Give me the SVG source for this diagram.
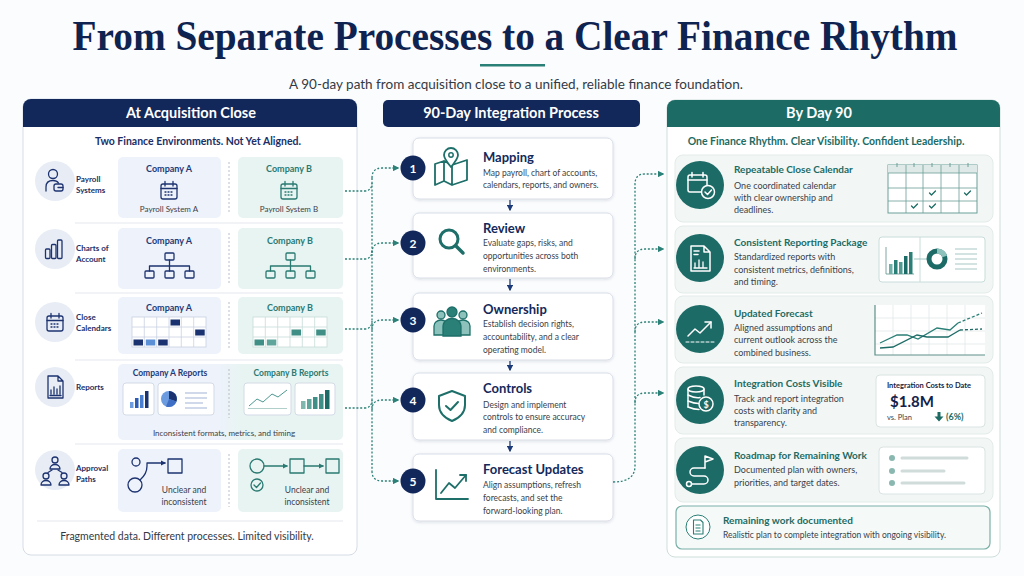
<svg xmlns="http://www.w3.org/2000/svg" width="1024" height="576" viewBox="0 0 1024 576">
<defs>
<style>
text{font-family:Lato,"Open Sans","Liberation Sans",sans-serif}
.title{font-family:"Liberation Serif",serif;font-weight:700;font-size:37px;fill:#0f2350}
.sub{font-size:13.5px;fill:#333a45}
.hdr{font-size:14.5px;font-weight:700;fill:#fff}
.lbl{font-size:8px;font-weight:700;fill:#1b2f66}
.ca{font-size:9px;font-weight:700;fill:#1d3a78}
.cb{font-size:9px;font-weight:700;fill:#2a7a72}
.sm{font-size:8px;fill:#3a3f4a}
.mt{font-size:13px;font-weight:700;fill:#13295b}
.md{font-size:8.5px;fill:#3a3f4a}
.rt{font-size:10px;font-weight:700;fill:#1d6b63}
.rd{font-size:9px;fill:#3a3f4a}
.num{font-size:12px;font-weight:700;fill:#fff}
.conn{fill:none;stroke:#2b8077;stroke-width:1.3;stroke-dasharray:2 1.8}
.ni{fill:none;stroke:#1d3370;stroke-width:1.3;stroke-linecap:round;stroke-linejoin:round}
.ti{fill:none;stroke:#2a7a72;stroke-width:1.3;stroke-linecap:round;stroke-linejoin:round}
.mi{fill:none;stroke:#1e6f69;stroke-width:2.2;stroke-linecap:round;stroke-linejoin:round}
.wi{fill:none;stroke:#fff;stroke-width:1.5;stroke-linecap:round;stroke-linejoin:round}
.card{fill:#fff;stroke:#d8dde8;stroke-width:1}
.rc{fill:#f2f7f6;stroke:#e3ecea;stroke-width:1}
.boxa{fill:#edf2fb}
.boxb{fill:#e8f4f2}
.ic{fill:#e8edf5}
.sep{stroke:#e3e7ee;stroke-width:1}
.div{stroke:#b8bfca;stroke-width:1;stroke-dasharray:2 2}
.tc{fill:#1d6b66}
.mini{fill:#fff;stroke:#d3dbe6;stroke-width:1}
</style>
<filter id="sh" x="-5%" y="-10%" width="110%" height="130%">
<feDropShadow dx="0" dy="1" stdDeviation="1.5" flood-color="#1a2a50" flood-opacity="0.13"/>
</filter>
<linearGradient id="rg" x1="0" y1="0" x2="1" y2="0">
<stop offset="0" stop-color="#edf2fb"/><stop offset="0.45" stop-color="#edf2fb"/><stop offset="0.55" stop-color="#e8f4f2"/><stop offset="1" stop-color="#e8f4f2"/>
</linearGradient>
<marker id="ah" viewBox="0 0 10 10" refX="8" refY="5" markerWidth="5" markerHeight="5" orient="auto"><path d="M0,0 L10,5 L0,10 Z" fill="#2b8077"/></marker>
<marker id="an" viewBox="0 0 10 10" refX="8" refY="5" markerWidth="5" markerHeight="5" orient="auto"><path d="M0,0 L10,5 L0,10 Z" fill="#1d3a78"/></marker>
<marker id="as" viewBox="0 0 10 10" refX="8" refY="5" markerWidth="4" markerHeight="4" orient="auto"><path d="M0,0 L10,5 L0,10 Z" fill="#1d3370"/></marker>
<marker id="at" viewBox="0 0 10 10" refX="8" refY="5" markerWidth="4" markerHeight="4" orient="auto"><path d="M0,0 L10,5 L0,10 Z" fill="#2a7a72"/></marker>
<g id="cal">
<rect x="-8" y="-7" width="16" height="15" rx="2"/>
<path d="M-8,-2.5 H8 M-4,-9.5 V-5 M4,-9.5 V-5"/>
<path d="M-4,1 h1 M-1,1 h1 M2,1 h1 M-4,4 h1 M-1,4 h1 M2,4 h1"/>
</g>
</defs>

<rect width="1024" height="576" fill="#fbfcfd"/>

<g id="header">
<text class="title" transform="translate(515,50) scale(1,1.16)" x="0" y="0" text-anchor="middle" textLength="885" lengthAdjust="spacingAndGlyphs">From Separate Processes to a Clear Finance Rhythm</text>
<rect x="480" y="64" width="65" height="2.5" fill="#2a7f76"/>
<text class="sub" x="516" y="89" text-anchor="middle">A 90-day path from acquisition close to a unified, reliable finance foundation.</text>
</g>

<!-- LEFT PANEL -->
<g id="left-panel">
<rect x="23" y="99" width="334" height="456" rx="8" fill="#fff" stroke="#d6dce6"/>
<path d="M23,127 V107 A8,8 0 0 1 31,99 H349 A8,8 0 0 1 357,107 V127 Z" fill="#12285a"/>
<text class="hdr" x="191" y="118" text-anchor="middle">At Acquisition Close</text>
<text x="198" y="145" text-anchor="middle" style="font-size:10.5px;font-weight:700;fill:#1b2f66">Two Finance Environments. Not Yet Aligned.</text>
<path class="sep" d="M75,223 H343 M75,293 H343 M75,360 H343 M75,444 H343 M37,521 H343"/>
<text x="187" y="540" text-anchor="middle" style="font-size:10.5px;fill:#333a45">Fragmented data. Different processes. Limited visibility.</text>
</g>

<g id="row-payroll">
<circle class="ic" cx="55" cy="181" r="20"/>
<g class="ni">
<circle cx="53" cy="174" r="4.5"/>
<path d="M46,191 V187 C46,182.5 49,180.5 53,180.5 C55.5,180.5 57.5,181.5 58.5,183"/>
<rect x="54" y="184" width="9" height="7" rx="2"/>
<path d="M58,187.5 H63"/>
</g>
<text class="lbl" x="76" y="182">Payroll</text>
<text class="lbl" x="76" y="193">Systems</text>
<rect class="boxa" x="118" y="157" width="103" height="61" rx="5"/>
<rect class="boxb" x="238" y="157" width="105" height="61" rx="5"/>
<line class="div" x1="229" y1="162" x2="229" y2="213"/>
<text class="ca" x="169" y="172" text-anchor="middle">Company A</text>
<text class="cb" x="289" y="172" text-anchor="middle">Company B</text>
<use href="#cal" x="169" y="191" class="ni"/>
<use href="#cal" x="289" y="191" class="ti"/>
<text class="sm" x="169" y="212" text-anchor="middle">Payroll System A</text>
<text class="sm" x="289" y="212" text-anchor="middle">Payroll System B</text>
</g>

<g id="row-charts">
<circle class="ic" cx="55" cy="249" r="20"/>
<g class="ni">
<rect x="45.5" y="249" width="4.5" height="9.5" rx="1"/>
<rect x="51.5" y="244.5" width="4.5" height="14" rx="1"/>
<rect x="57.5" y="240" width="4.5" height="18.5" rx="1"/>
</g>
<text class="lbl" x="76" y="251">Charts of</text>
<text class="lbl" x="76" y="262">Account</text>
<rect class="boxa" x="118" y="228" width="103" height="61" rx="5"/>
<rect class="boxb" x="238" y="228" width="105" height="61" rx="5"/>
<line class="div" x1="229" y1="233" x2="229" y2="284"/>
<text class="ca" x="169" y="244" text-anchor="middle">Company A</text>
<text class="cb" x="290" y="244" text-anchor="middle">Company B</text>
<g class="ni">
<rect x="165" y="253" width="9" height="7" rx="1"/>
<path d="M169.5,260 V266 M149.5,266 H189.5 M149.5,266 V271 M169.5,266 V271 M189.5,266 V271"/>
<rect x="145" y="271" width="9" height="7" rx="1"/><rect x="165" y="271" width="9" height="7" rx="1"/><rect x="185" y="271" width="9" height="7" rx="1"/>
</g>
<g class="ti">
<rect x="286" y="253" width="9" height="7" rx="1"/>
<path d="M290.5,260 V266 M270.5,266 H310.5 M270.5,266 V271 M290.5,266 V271 M310.5,266 V271"/>
<rect x="266" y="271" width="9" height="7" rx="1"/><rect x="286" y="271" width="9" height="7" rx="1"/><rect x="306" y="271" width="9" height="7" rx="1"/>
</g>
</g>

<g id="row-calendars">
<circle class="ic" cx="55" cy="322" r="20"/>
<use href="#cal" x="55" y="323" class="ni"/>
<text class="lbl" x="76" y="320">Close</text>
<text class="lbl" x="76" y="331">Calendars</text>
<rect class="boxa" x="118" y="297" width="103" height="57" rx="5"/>
<rect class="boxb" x="238" y="297" width="105" height="57" rx="5"/>
<line class="div" x1="229" y1="302" x2="229" y2="349"/>
<text class="ca" x="169" y="311" text-anchor="middle">Company A</text>
<text class="cb" x="290" y="311" text-anchor="middle">Company B</text>
<g fill="none" stroke="#c9d2e2" stroke-width="0.8">
<rect x="132" y="317" width="74" height="30" fill="#fff"/>
<path d="M144.3,317 V347 M156.7,317 V347 M169,317 V347 M181.3,317 V347 M193.7,317 V347 M132,327 H206 M132,337 H206"/>
</g>
<g fill="#1a3270">
<rect x="170.5" y="319.5" width="9.5" height="6"/>
<rect x="195.2" y="329.5" width="9.5" height="6"/>
<rect x="133.5" y="339.5" width="9.5" height="6"/>
<rect x="145.8" y="339.5" width="9.5" height="6" fill="#5b8fd6"/>
<rect x="158.2" y="339.5" width="9.5" height="6"/>
</g>
<g fill="none" stroke="#c6dcd8" stroke-width="0.8">
<rect x="253" y="317" width="74" height="30" fill="#fff"/>
<path d="M265.3,317 V347 M277.7,317 V347 M290,317 V347 M302.3,317 V347 M314.7,317 V347 M253,327 H327 M253,337 H327"/>
</g>
<g fill="#3f8f86">
<rect x="291.5" y="329.5" width="9.5" height="6"/>
<rect x="316.2" y="329.5" width="9.5" height="6"/>
<rect x="254.5" y="339.5" width="9.5" height="6"/>
<rect x="266.8" y="339.5" width="9.5" height="6" fill="#5fa59c"/>
</g>
</g>

<g id="row-reports">
<circle class="ic" cx="55" cy="387" r="20"/>
<g class="ni">
<path d="M48,376 H58 L63,381 V398 H48 Z M58,376 V381 H63"/>
<path d="M51,394 V390 M54,394 V387 M57,394 V389 M60,394 V386 M50,395.5 H61"/>
</g>
<text class="lbl" x="76" y="390">Reports</text>
<rect x="118" y="364" width="225" height="76" rx="5" fill="url(#rg)"/>
<line class="div" x1="229" y1="369" x2="229" y2="418"/>
<text class="ca" x="170" y="376" text-anchor="middle" style="font-size:8.5px">Company A Reports</text>
<text class="cb" x="291" y="376" text-anchor="middle" style="font-size:8.5px">Company B Reports</text>
<rect class="mini" x="123" y="383" width="31" height="32" rx="3"/>
<rect class="mini" x="158" y="383" width="56" height="32" rx="3"/>
<rect class="mini" x="244" y="383" width="47" height="32" rx="3" stroke="#cfe0dd"/>
<rect class="mini" x="295" y="383" width="40" height="32" rx="3" stroke="#cfe0dd"/>
<g fill="#2c5bb5">
<rect x="130" y="402" width="3.5" height="6" fill="#6d9be0"/>
<rect x="135" y="398" width="3.5" height="10"/>
<rect x="140" y="395" width="3.5" height="13" fill="#4a7fd0"/>
<rect x="145" y="391" width="3.5" height="17" fill="#1a3270"/>
</g>
<circle cx="169" cy="399" r="8" fill="#6d9be0"/>
<path d="M169,399 V391 A8,8 0 0 1 176.5,401.5 Z" fill="#1a3270"/>
<path d="M169,399 L176.5,401.5 A8,8 0 0 1 166,406.4 Z" fill="#3e6fc4"/>
<path d="M185,393 H207 M185,398 H207 M185,403 H203 M185,408 H207" stroke="#9fb3d6" stroke-width="1"/>
<path d="M248,408.5 H287" stroke="#9cc3bd" stroke-width="0.8"/>
<polyline points="249,406 257,399 263,402 272,394 278,397 287,390" fill="none" stroke="#4c9890" stroke-width="1"/>
<g fill="#3f8f86">
<rect x="301" y="401" width="4.5" height="8" fill="#7fb6ae"/>
<rect x="307" y="399" width="4.5" height="10" fill="#5fa59c"/>
<rect x="313" y="397" width="4.5" height="12"/>
<rect x="319" y="394" width="4.5" height="15"/>
<rect x="325" y="390" width="4.5" height="19" fill="#1d6b66"/>
</g>
<text class="sm" x="224" y="436" text-anchor="middle">Inconsistent formats, metrics, and timing</text>
</g>

<g id="row-approval">
<circle class="ic" cx="55" cy="470" r="20"/>
<g class="ni">
<circle cx="55" cy="460" r="3"/>
<path d="M50,469 A5,4.5 0 0 1 60,469 Z"/>
<circle cx="46" cy="476" r="3"/>
<path d="M41,485 A5,4.5 0 0 1 51,485 Z"/>
<circle cx="64" cy="476" r="3"/>
<path d="M59,485 A5,4.5 0 0 1 69,485 Z"/>
<path d="M52,470 L48,472.5 M58,470 L62,472.5"/>
</g>
<text class="lbl" x="76" y="471">Approval</text>
<text class="lbl" x="76" y="482">Paths</text>
<rect class="boxa" x="118" y="449" width="103" height="63" rx="5"/>
<rect class="boxb" x="238" y="449" width="105" height="63" rx="5"/>
<line class="div" x1="229" y1="454" x2="229" y2="507"/>
<g class="ni">
<circle cx="136" cy="462" r="4"/>
<circle cx="135" cy="485" r="7"/>
<path d="M140,480 Q147,474 147,466 V463 H165" marker-end="url(#as)"/>
<rect x="168" y="459" width="14" height="14"/>
</g>
<text class="sm" x="184" y="493" text-anchor="middle" style="font-size:8.5px">Unclear and</text>
<text class="sm" x="184" y="505" text-anchor="middle" style="font-size:8.5px">inconsistent</text>
<g class="ti">
<circle cx="257" cy="466" r="7"/>
<path d="M264,466 H287" marker-end="url(#at)"/>
<rect x="290" y="459" width="14" height="14"/>
<path d="M304,466 H323" marker-end="url(#at)"/>
<rect x="326" y="459" width="13" height="14"/>
<circle cx="257" cy="485" r="6"/>
<path d="M254,485 L256.5,487.5 L260.5,483"/>
</g>
<text class="sm" x="307" y="493" text-anchor="middle" style="font-size:8.5px">Unclear and</text>
<text class="sm" x="307" y="505" text-anchor="middle" style="font-size:8.5px">inconsistent</text>
</g>

<!-- MIDDLE -->
<g id="middle-header">
<rect x="383" y="100" width="257" height="27" rx="5" fill="#12285a"/>
<text class="hdr" x="511" y="118" text-anchor="middle">90-Day Integration Process</text>
</g>

<g id="step-1">
<rect class="card" x="413" y="138" width="200" height="61" rx="6" filter="url(#sh)"/>
<circle cx="413" cy="168" r="12.5" fill="#12285a"/>
<text class="num" x="413" y="172.5" text-anchor="middle">1</text>
<g class="mi">
<path d="M435,164 L444,161 L452,165 L467,160 V180 L452,185 L444,181 L435,185 Z M444,161 V181 M452,165 V185" stroke-width="1.8"/>
<path d="M451,167 C446,161 444,158 444,155 A7,7 0 0 1 458,155 C458,158 456,161 451,167 Z" fill="#fff" stroke-width="1.8"/>
<circle cx="451" cy="155" r="2.2" stroke-width="1.5"/>
</g>
<text class="mt" x="483" y="162">Mapping</text>
<text class="md" x="483" y="176">Map payroll, chart of accounts,</text>
<text class="md" x="483" y="188">calendars, reports, and owners.</text>
</g>

<g id="step-2">
<rect class="card" x="413" y="213" width="200" height="65" rx="6" filter="url(#sh)"/>
<circle cx="413" cy="243" r="12.5" fill="#12285a"/>
<text class="num" x="413" y="247.5" text-anchor="middle">2</text>
<g class="mi">
<circle cx="449" cy="239" r="9" stroke-width="3"/>
<path d="M456,246 L463,253" stroke-width="3.5"/>
</g>
<text class="mt" x="483" y="233">Review</text>
<text class="md" x="483" y="246">Evaluate gaps, risks, and</text>
<text class="md" x="483" y="259">opportunities across both</text>
<text class="md" x="483" y="272">environments.</text>
</g>

<g id="step-3">
<rect class="card" x="413" y="293" width="200" height="67" rx="6" filter="url(#sh)"/>
<circle cx="413" cy="320" r="12.5" fill="#12285a"/>
<text class="num" x="413" y="324.5" text-anchor="middle">3</text>
<g stroke="#1e6f69" stroke-width="1.3">
<circle cx="441" cy="315" r="4" fill="#8cc2bb"/>
<path d="M434,335 V326 A7,6 0 0 1 448,326 V335 Z" fill="#8cc2bb"/>
<circle cx="463" cy="315" r="4" fill="#8cc2bb"/>
<path d="M456,335 V326 A7,6 0 0 1 470,326 V335 Z" fill="#8cc2bb"/>
<circle cx="452" cy="312" r="5" fill="#2a7f76"/>
<path d="M443,336 V326 A9,7.5 0 0 1 461,326 V336 Z" fill="#2a7f76"/>
</g>
<text class="mt" x="483" y="314">Ownership</text>
<text class="md" x="483" y="327">Establish decision rights,</text>
<text class="md" x="483" y="340">accountability, and a clear</text>
<text class="md" x="483" y="353">operating model.</text>
</g>

<g id="step-4">
<rect class="card" x="413" y="373" width="200" height="67" rx="6" filter="url(#sh)"/>
<circle cx="413" cy="400" r="12.5" fill="#12285a"/>
<text class="num" x="413" y="404.5" text-anchor="middle">4</text>
<g class="mi">
<path d="M452,391 L465,396 V405 C465,413 459,418 452,421 C445,418 439,413 439,405 V396 Z" stroke-width="2"/>
<path d="M446,406 L450.5,410 L458,402" stroke-width="2"/>
</g>
<text class="mt" x="483" y="393">Controls</text>
<text class="md" x="483" y="408">Design and implement</text>
<text class="md" x="483" y="420">controls to ensure accuracy</text>
<text class="md" x="483" y="433">and compliance.</text>
</g>

<g id="step-5">
<rect class="card" x="413" y="454" width="200" height="67" rx="6" filter="url(#sh)"/>
<circle cx="413" cy="481" r="12.5" fill="#12285a"/>
<text class="num" x="413" y="485.5" text-anchor="middle">5</text>
<g class="mi">
<path d="M436,470 V499 H468" stroke-width="1.8"/>
<path d="M441,493 L449,483 L455,488 L466,475" stroke-width="1.8"/>
<path d="M460,475 H466 V481" stroke-width="1.8"/>
</g>
<text class="mt" x="483" y="474">Forecast Updates</text>
<text class="md" x="483" y="488">Align assumptions, refresh</text>
<text class="md" x="483" y="501">forecasts, and set the</text>
<text class="md" x="483" y="514">forward-looking plan.</text>
</g>

<!-- RIGHT PANEL -->
<g id="right-panel">
<rect x="667" y="100" width="333" height="457" rx="8" fill="#fff" stroke="#cfdedb"/>
<path d="M667,127 V108 A8,8 0 0 1 675,100 H992 A8,8 0 0 1 1000,108 V127 Z" fill="#1c6b65"/>
<text class="hdr" x="819" y="118" text-anchor="middle">By Day 90</text>
<text x="826" y="145" text-anchor="middle" style="font-size:10.5px;font-weight:700;fill:#1d6b63">One Finance Rhythm. Clear Visibility. Confident Leadership.</text>
</g>

<g id="out-calendar">
<rect class="rc" x="675" y="155" width="318" height="67" rx="8"/>
<circle class="tc" cx="700" cy="185" r="24"/>
<g class="wi">
<rect x="688" y="175" width="19" height="17" rx="2"/>
<path d="M688,180 H707 M692,172.5 V177 M703,172.5 V177"/>
<circle cx="708" cy="192" r="6.5" fill="#1d6b66"/>
<path d="M705,192 L707.5,194.5 L711.5,190"/>
</g>
<text class="rt" x="734" y="173">Repeatable Close Calendar</text>
<text class="rd" x="734" y="189">One coordinated calendar</text>
<text class="rd" x="734" y="201">with clear ownership and</text>
<text class="rd" x="734" y="213">deadlines.</text>
<rect x="888" y="165" width="89" height="48" fill="#fff" stroke="#6a9f98" stroke-width="1"/>
<rect x="888" y="165" width="89" height="8" fill="#dfe9e7"/>
<path d="M906,165 V213 M923,165 V213 M941,165 V213 M959,165 V213 M888,188 H977 M888,201 H977 M888,173 H977" stroke="#6a9f98" stroke-width="0.8" fill="none"/>
<path d="M897,163 V167 M914,163 V167 M932,163 V167 M950,163 V167 M968,163 V167" stroke="#6a9f98" stroke-width="1"/>
<g fill="none" stroke="#1d6b63" stroke-width="1.3" stroke-linecap="round" stroke-linejoin="round">
<path d="M929.5,193 L931.5,195 L935.5,191"/>
<path d="M964.5,193 L966.5,195 L970.5,191"/>
<path d="M911.5,206 L913.5,208 L917.5,204"/>
<path d="M929.5,206 L931.5,208 L935.5,204"/>
</g>
</g>

<g id="out-reporting">
<rect class="rc" x="675" y="226" width="318" height="67" rx="8"/>
<circle class="tc" cx="700" cy="258" r="24"/>
<g class="wi">
<path d="M691,246 H704 L710,252 V271 H691 Z M704,246 V252 H710"/>
<path d="M694,251 H699 M694,254.5 H698"/>
<path d="M695,267 V263 M699,267 V260 M703,267 V262 M694,268 H707" stroke-width="1.3"/>
</g>
<text class="rt" x="734" y="246">Consistent Reporting Package</text>
<text class="rd" x="734" y="260">Standardized reports with</text>
<text class="rd" x="734" y="273">consistent metrics, definitions,</text>
<text class="rd" x="734" y="285">and timing.</text>
<rect x="879" y="237" width="106" height="45" rx="3" fill="#fff" stroke="#c8dcd9"/>
<path d="M920,237 V282" stroke="#c8dcd9"/>
<path d="M886,247 V274 H914" stroke="#5e8f89" stroke-width="0.8" fill="none"/>
<g fill="#2a7f76">
<rect x="889" y="264" width="3.5" height="10" fill="#6fb0a7"/>
<rect x="894" y="260" width="3.5" height="14"/>
<rect x="899" y="262" width="3.5" height="12" fill="#4f9a91"/>
<rect x="904" y="256" width="3.5" height="18" fill="#1d6b66"/>
<rect x="909" y="252" width="3.5" height="22"/>
</g>
<path d="M914,259 H928" stroke="#9fc5c0" stroke-width="1"/>
<circle cx="937" cy="259" r="8" fill="none" stroke="#1d6b66" stroke-width="5"/>
<path d="M937,251 A8,8 0 0 1 944.6,256.5" fill="none" stroke="#8cc2bb" stroke-width="5"/>
<path d="M955,249 H977 M955,254 H977 M955,259 H977 M955,264 H977 M955,269 H977" stroke="#a6c7c3" stroke-width="1"/>
</g>

<g id="out-forecast">
<rect class="rc" x="675" y="296" width="318" height="67" rx="8"/>
<circle class="tc" cx="700" cy="329" r="24"/>
<g class="wi">
<path d="M688,336 L695,329 L700,333 L711,322"/>
<path d="M705,322 H711 V328"/>
<path d="M686,342 H714" stroke-width="1" stroke-dasharray="3 2"/>
</g>
<text class="rt" x="734" y="317">Updated Forecast</text>
<text class="rd" x="734" y="331">Aligned assumptions and</text>
<text class="rd" x="734" y="343">current outlook across the</text>
<text class="rd" x="734" y="356">combined business.</text>
<rect x="875" y="305" width="110" height="50" fill="#fff"/>
<path d="M893,305 V355 M911,305 V355 M929,305 V355 M947,305 V355 M965,305 V355 M875,318 H985 M875,331 H985 M875,344 H985" stroke="#e1e8e7" stroke-width="0.8" fill="none"/>
<path d="M875,305 V355 H985" stroke="#5e8f89" stroke-width="1.2" fill="none"/>
<polyline points="880,343 897,335 907,335 918,339 937,328 950,330 958,323" fill="none" stroke="#2a7f76" stroke-width="1.3"/>
<path d="M958,323 L982,313" fill="none" stroke="#2a7f76" stroke-width="1.3" stroke-dasharray="3 2"/>
<polyline points="880,348 893,347 917,335 927,337 948,337 960,330" fill="none" stroke="#1d6b66" stroke-width="1.3"/>
<path d="M960,330 L982,329" fill="none" stroke="#1d6b66" stroke-width="1.3" stroke-dasharray="3 2"/>
</g>

<g id="out-costs">
<rect class="rc" x="675" y="367" width="318" height="67" rx="8"/>
<circle class="tc" cx="700" cy="400" r="24"/>
<g class="wi">
<ellipse cx="696" cy="389" rx="8" ry="3"/>
<path d="M688,389 V407 M704,389 V395"/>
<path d="M688,395 Q695,398.5 700,397.5 M688,401 Q694,403.5 698.5,403.5 M688,407 Q694,409.5 699,409.5"/>
<circle cx="706" cy="404" r="7" fill="#1d6b66"/>
</g>
<text x="706" y="407.5" text-anchor="middle" style="font-size:9px;font-weight:700;fill:#fff">$</text>
<text class="rt" x="734" y="387">Integration Costs Visible</text>
<text class="rd" x="734" y="402">Track and report integration</text>
<text class="rd" x="734" y="414">costs with clarity and</text>
<text class="rd" x="734" y="426">transparency.</text>
<rect x="876" y="375" width="109" height="52" rx="4" fill="#fff" stroke="#d9e4e2"/>
<text x="929" y="388" text-anchor="middle" style="font-size:7.5px;font-weight:700;fill:#1b2540">Integration Costs to Date</text>
<text x="890" y="407" style="font-size:15px;font-weight:700;fill:#13224a">$1.8M</text>
<text x="887" y="420" style="font-size:7.5px;fill:#3a3f4a">vs. Plan</text>
<path d="M937.5,412 H940.5 V416.5 H943.5 L939,421.5 L934.5,416.5 H937.5 Z" fill="#1d6b63"/>
<text x="946" y="420" style="font-size:9px;font-weight:700;fill:#1d6b63">(6%)</text>
</g>

<g id="out-roadmap">
<rect class="rc" x="675" y="438" width="318" height="64" rx="8"/>
<circle class="tc" cx="700" cy="470" r="24"/>
<g class="wi">
<path d="M705,468 V456 M705,456 L713,459 L705,462"/>
<path d="M705,468 H694 A4,4 0 0 0 694,476 H704 A4,4 0 0 1 704,484 H692"/>
<circle cx="689" cy="484" r="2.5"/>
</g>
<text class="rt" x="734" y="459">Roadmap for Remaining Work</text>
<text class="rd" x="734" y="473">Documented plan with owners,</text>
<text class="rd" x="734" y="486">priorities, and target dates.</text>
<rect x="879" y="447" width="106" height="47" rx="4" fill="#fff" stroke="#d9e4e2"/>
<g fill="#8ab8b1">
<circle cx="892" cy="458" r="3"/><circle cx="892" cy="471" r="3"/><circle cx="892" cy="483" r="3"/>
</g>
<path d="M902,458 H967 M902,471 H944 M902,483 H964" stroke="#cfdcda" stroke-width="3" stroke-linecap="round"/>
</g>

<g id="remaining-note">
<rect x="676" y="506" width="314" height="43" rx="6" fill="#f5faf9" stroke="#7bb0a8" stroke-width="1.2"/>
<circle cx="698" cy="527" r="12" fill="#fff" stroke="#2a7f76" stroke-width="1"/>
<g fill="none" stroke="#2a7f76" stroke-width="1.1" stroke-linejoin="round">
<path d="M693.5,520 H700.5 L703,522.5 V534 H693.5 Z"/>
<path d="M695.5,525 H700.5 M695.5,528 H700.5 M695.5,531 H700.5"/>
</g>
<text x="723" y="524" style="font-size:10px;font-weight:700;fill:#1d6b63">Remaining work documented</text>
<text x="723" y="538" style="font-size:8.5px;fill:#3a3f4a">Realistic plan to complete integration with ongoing visibility.</text>
</g>

<g id="connectors">
<path class="conn" d="M345,191 H364 Q372,191 372,183"/>
<path class="conn" d="M345,259 H364 Q372,259 372,251"/>
<path class="conn" d="M345,329 H364 Q372,329 372,321"/>
<path class="conn" d="M345,408 H364 Q372,408 372,400"/>
<path class="conn" d="M372,178 V471"/>
<path class="conn" d="M372,178 Q372,168 382,168 H398" marker-end="url(#ah)"/>
<path class="conn" d="M372,253 Q372,243 382,243 H398" marker-end="url(#ah)"/>
<path class="conn" d="M372,330 Q372,320 382,320 H398" marker-end="url(#ah)"/>
<path class="conn" d="M372,410 Q372,400 382,400 H398" marker-end="url(#ah)"/>
<path class="conn" d="M372,471 Q372,481 382,481 H398" marker-end="url(#ah)"/>
<path class="conn" d="M613,482 Q635,482 635,466 V184 Q635,174 645,174 H663" marker-end="url(#ah)"/>
<path class="conn" d="M635,259 Q635,249 645,249 H663" marker-end="url(#ah)"/>
<path class="conn" d="M635,332 Q635,322 645,322 H663" marker-end="url(#ah)"/>
<path class="conn" d="M635,403 Q635,393 645,393 H663" marker-end="url(#ah)"/>
<g fill="none" stroke="#1d3a78" stroke-width="1.3">
<path d="M510,200 V210" marker-end="url(#an)"/>
<path d="M510,279 V290" marker-end="url(#an)"/>
<path d="M510,361 V370" marker-end="url(#an)"/>
<path d="M510,441 V451" marker-end="url(#an)"/>
</g>
</g>
</svg>
